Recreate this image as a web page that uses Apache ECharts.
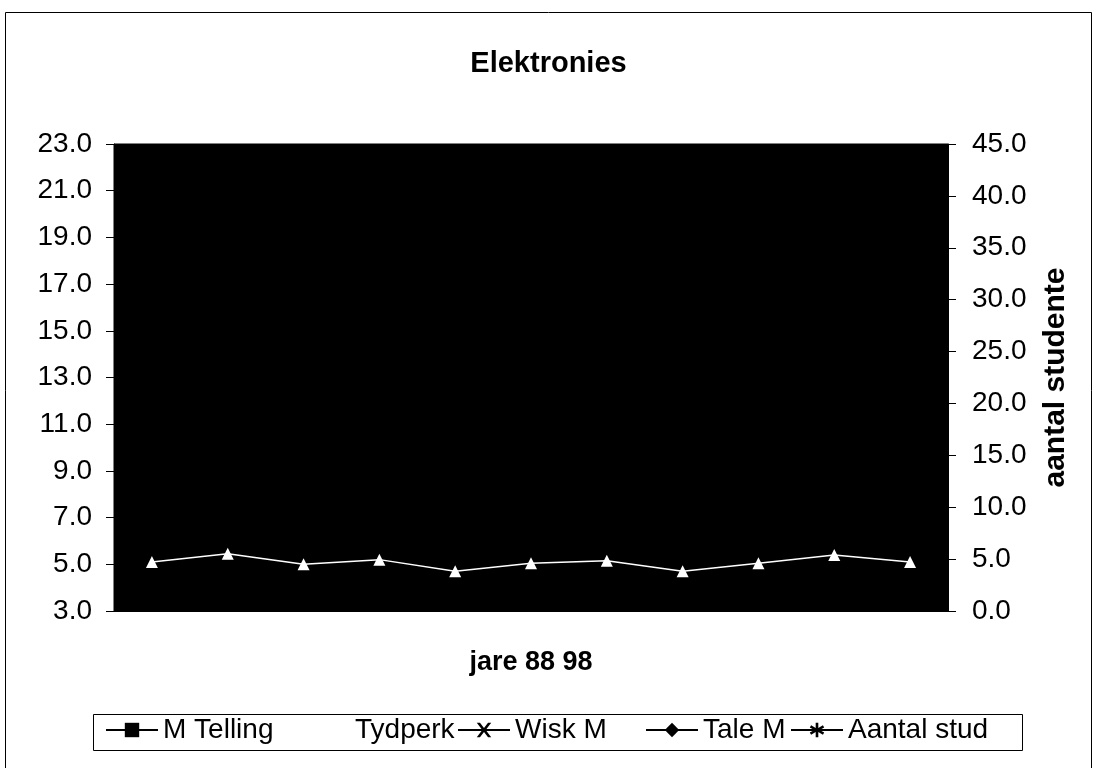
<!DOCTYPE html>
<html>
<head>
<meta charset="utf-8">
<script src="https://cdn.jsdelivr.net/npm/echarts@6/dist/echarts.min.js"></script>
<style>html,body{margin:0;padding:0;background:#fff}#c{width:1097px;height:768px}</style>
</head>
<body>
<div id="c"></div>
<script>
// ---- data ----
var years = ['88','89','90','91','92','93','94','95','96','97','98'];
var tydperk = [5.1, 5.45, 5.0, 5.2, 4.7, 5.05, 5.15, 4.7, 5.05, 5.4, 5.1];
var mTelling = [];
var wiskM = [];
var taleM = [];
var aantalStud = [];
var seriesNames = ['M Telling', 'Tydperk', 'Wisk M', 'Tale M', 'Aantal stud'];
var leftTicks = {min: 3, max: 23, step: 2};
var rightTicks = {min: 0, max: 45, step: 5};

var FONT = '"Liberation Sans", Arial, sans-serif';
var xPath = 'path://M0,0 L2.2,0 L5,3.2 L7.8,0 L10,0 L6.2,4.5 L10,9 L7.8,9 L5,5.8 L2.2,9 L0,9 L3.8,4.5 Z';
var starPath = 'path://M4.2,0 L5.8,0 L5.8,3.3 L8.6,1.5 L9.4,2.9 L6.6,4.5 L9.4,6.1 L8.6,7.5 L5.8,5.7 L5.8,9 L4.2,9 L4.2,5.7 L1.4,7.5 L0.6,6.1 L3.4,4.5 L0.6,2.9 L1.4,1.5 L4.2,3.3 Z';

// legend layout (one legend component per entry, inside a framed box)
var legendLefts = [105, 297, 457, 645, 790];
var legendBox = {x: 93, y: 714, w: 929, h: 36};
var legends = seriesNames.map(function (n, i) {
  return {
    data: [n], left: legendLefts[i], top: legendBox.y + 2,
    padding: 0, itemWidth: 52, itemHeight: 18, itemGap: 0,
    lineStyle: {width: 2},
    textStyle: {fontFamily: FONT, fontSize: 28, color: '#000'},
    selectedMode: false
  };
});

var chart = echarts.init(document.getElementById('c'), null, {renderer: 'canvas'});
chart.setOption({
  backgroundColor: '#fff',
  animation: false,
  textStyle: {fontFamily: FONT},
  title: {
    text: 'Elektronies', left: 'center', top: 44,
    textStyle: {fontFamily: FONT, fontSize: 29, fontWeight: 'bold', color: '#000'}
  },
  graphic: [{
    type: 'rect', shape: {x: 5.5, y: 12.5, width: 1086, height: 770},
    style: {fill: 'none', stroke: '#000', lineWidth: 1}, silent: true
  }, {
    type: 'rect', shape: {x: legendBox.x + 0.5, y: legendBox.y + 0.5, width: legendBox.w, height: legendBox.h},
    style: {fill: 'none', stroke: '#000', lineWidth: 1}, silent: true
  }],
  grid: {
    left: 114, right: 149, top: 144, bottom: 157,
    show: true, backgroundColor: '#000', borderColor: '#000', borderWidth: 1
  },
  legend: legends,
  xAxis: {
    type: 'category', data: years, boundaryGap: true,
    name: 'jare 88 98', nameLocation: 'middle', nameGap: 38,
    nameTextStyle: {fontFamily: FONT, fontSize: 27, fontWeight: 'bold', color: '#000'},
    axisLine: {show: true, lineStyle: {color: '#000'}},
    axisTick: {show: false}, axisLabel: {show: false}, splitLine: {show: false}
  },
  yAxis: [{
    type: 'value', position: 'left',
    min: leftTicks.min, max: leftTicks.max, interval: leftTicks.step,
    axisLine: {show: true, lineStyle: {color: '#000'}},
    axisTick: {show: true, length: 8, lineStyle: {color: '#000'}},
    axisLabel: {fontFamily: FONT, fontSize: 28, color: '#000', margin: 22,
      formatter: function (v) { return v.toFixed(1); }},
    splitLine: {show: false}
  }, {
    type: 'value', position: 'right',
    min: rightTicks.min, max: rightTicks.max, interval: rightTicks.step,
    name: 'aantal studente', nameLocation: 'middle', nameGap: 93, nameRotate: 90,
    nameTextStyle: {fontFamily: FONT, fontSize: 30, fontWeight: 'bold', color: '#000'},
    axisLine: {show: true, lineStyle: {color: '#000'}},
    axisTick: {show: true, length: 8, lineStyle: {color: '#000'}},
    axisLabel: {fontFamily: FONT, fontSize: 28, color: '#000', margin: 24,
      formatter: function (v) { return v.toFixed(1); }},
    splitLine: {show: false}
  }],
  series: [
    {name: seriesNames[0], type: 'line', yAxisIndex: 0, data: mTelling, symbol: 'rect', symbolSize: 10,
      itemStyle: {color: '#000'}, lineStyle: {color: '#000', width: 2}},
    {name: seriesNames[1], type: 'line', yAxisIndex: 0, data: tydperk, symbol: 'triangle', symbolSize: 12,
      itemStyle: {color: '#fff'}, lineStyle: {color: '#fff', width: 1.5}, z: 5},
    {name: seriesNames[2], type: 'line', yAxisIndex: 0, data: wiskM, symbol: xPath, symbolSize: 11,
      itemStyle: {color: '#000'}, lineStyle: {color: '#000', width: 2}},
    {name: seriesNames[3], type: 'line', yAxisIndex: 0, data: taleM, symbol: 'diamond', symbolSize: 11,
      itemStyle: {color: '#000'}, lineStyle: {color: '#000', width: 2}},
    {name: seriesNames[4], type: 'line', yAxisIndex: 1, data: aantalStud, symbol: starPath, symbolSize: 11,
      itemStyle: {color: '#000'}, lineStyle: {color: '#000', width: 2}}
  ]
});
</script>
</body>
</html>
